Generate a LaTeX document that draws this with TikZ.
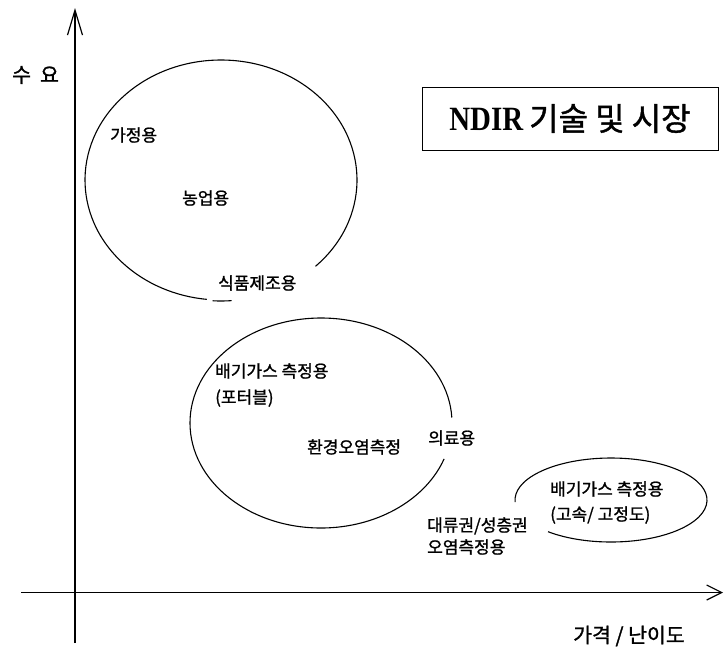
\documentclass[tikz,border=0pt]{standalone}
\usepackage{fontspec}
\setmainfont{Noto Sans CJK KR}[FakeBold=1.2]
\newfontfamily\serfont{Liberation Serif}
\usetikzlibrary{arrows.meta}
\tikzset{
  axisline/.style={line width=1.2pt},
  oval/.style={line width=1.1pt},
  lbl/.style={font=\fontsize{17}{22}\selectfont, inner sep=0pt, anchor=west, align=left},
  axlbl/.style={font=\fontsize{20.5}{24}\selectfont, inner sep=0pt, anchor=west},
  titlebox/.style={draw, line width=1pt, minimum width=296pt, minimum height=63pt, inner sep=0pt,
    font=\fontsize{32}{36}\selectfont}
}
\begin{document}
\begin{tikzpicture}[x=1pt,y=-1pt]
\useasboundingbox (0,0) rectangle (725,649);
% axes
\coordinate (ybot) at (75,643);
\coordinate (ytop) at (75,8);
\coordinate (xleft) at (21,592.5);
\coordinate (xright) at (723,592.5);
\draw[axisline, -{Straight Barb[length=25pt,width=15pt]}] (ybot) -- (ytop);
\draw[axisline, -{Straight Barb[length=15pt,width=15pt]}] (xleft) -- (xright);
\node[axlbl] (ylab) at (12,75) {수\hspace{9pt}요};
\node[axlbl] (xlab) at (573,636) {가격 / 난이도};
% title
\node[titlebox] (title) at (570,118.5) {\scalebox{0.85}[1]{\serfont\bfseries\fontsize{34}{36}\selectfont NDIR}\hspace{6pt}기술 및 시장};
% big ellipse
\coordinate (c1) at (221,180);
\draw[oval] ([shift={(46:136 and 120)}]c1) arc[start angle=46, end angle=-264, x radius=136, y radius=120];
\draw[oval] ([shift={(93.5:136 and 121)}]c1) arc[start angle=93.5, end angle=85.5, x radius=136, y radius=121];
\node[lbl] (home) at (110,135) {가정용};
\node[lbl] (farm) at (182,198) {농업용};
\node[lbl] (food) at (218,283) {식품제조용};
% middle ellipse
\coordinate (c2) at (321,423);
\draw[oval] ([shift={(-3:131 and 105)}]c2) arc[start angle=-3, end angle=-340, x radius=131, y radius=105];
\node[lbl, font=\fontsize{17}{26}\selectfont] (exhport) at (215,385) {배기가스 측정용\\(포터블)};
\node[lbl] (env) at (307,447) {환경오염측정};
\node[lbl] (med) at (428,438) {의료용};
% small ellipse
\coordinate (c3) at (611,500);
\draw[oval] ([shift={(131:96 and 42)}]c3) arc[start angle=131, end angle=-183, x radius=96, y radius=42];
\node[lbl, font=\fontsize{17}{25}\selectfont] (exhfast) at (550,502.5) {배기가스 측정용\\(고속/ 고정도)};
\node[lbl] (atmo) at (427,536) {대류권/성층권\\오염측정용};
\end{tikzpicture}
\end{document}
